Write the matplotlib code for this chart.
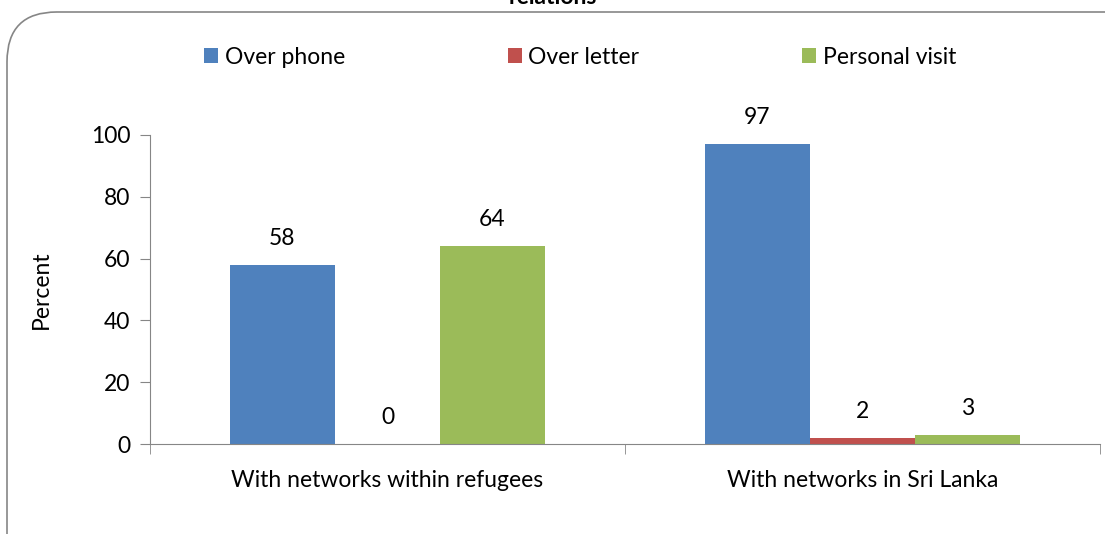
import matplotlib.pyplot as plt
from matplotlib.patches import FancyBboxPatch
import numpy as np

categories = ['With networks within refugees', 'With networks in Sri Lanka']
series = ['Over phone', 'Over letter', 'Personal visit']
over_phone = [58, 97]
over_letter = [0, 2]
personal_visit = [64, 3]
colors = ['#4F81BD', '#C0504D', '#9BBB59']

plt.rcParams['font.family'] = ['Lato', 'DejaVu Sans']
fs = 16.5

fig = plt.figure(figsize=(11.05, 5.34), dpi=100)
ax = fig.add_axes([0.1357, 0.1685, 0.8597, 0.5787])

# rounded chart border
border = FancyBboxPatch((7 / 1105, -0.2), 1.2, 1 - 12 / 534 + 0.2,
                        boxstyle='round,pad=0,rounding_size=0.045',
                        transform=fig.transFigure, facecolor='none',
                        edgecolor='#868686', linewidth=1.2, mutation_aspect=1105 / 534)
fig.patches.append(border)

fig.text(0.5, 1 - 4 / 534, 'relations', ha='center', va='baseline',
         fontsize=fs, fontweight='bold')

x = np.arange(len(categories))
w = 0.221
for i, (name, vals) in enumerate(zip(series, [over_phone, over_letter, personal_visit])):
    pos = x + (i - 1) * w
    ax.bar(pos, vals, width=w, color=colors[i], label=name)
    for p, v in zip(pos, vals):
        ax.annotate(str(v), (p, v), xytext=(0, 19), textcoords='offset points',
                    ha='center', va='center', fontsize=fs)

ax.set_xlim(-0.5, 1.5)
ax.set_ylim(0, 100)
ax.set_yticks([0, 20, 40, 60, 80, 100])
ax.set_xticks(x)
ax.set_xticklabels(categories)
ax.set_xticks([-0.5, 0.5, 1.5], minor=True)
ax.tick_params(axis='x', which='major', length=0, pad=19, labelsize=fs)
ax.tick_params(axis='x', which='minor', length=7, direction='out', color='#868686')
ax.tick_params(axis='y', length=7, direction='out', color='#868686', labelsize=fs, pad=7)
ax.set_ylabel('Percent', fontsize=fs, labelpad=28)

for s in ['top', 'right']:
    ax.spines[s].set_visible(False)
for s in ['left', 'bottom']:
    ax.spines[s].set_color('#868686')

handles, labels = ax.get_legend_handles_labels()
fig.legend(handles, labels, ncol=3, loc='center', bbox_to_anchor=(0.525, 1 - 57 / 534),
           frameon=False, fontsize=fs, handlelength=0.6, handleheight=0.6,
           handletextpad=0.3, columnspacing=7.1)

fig.savefig('out.png', dpi=100)
